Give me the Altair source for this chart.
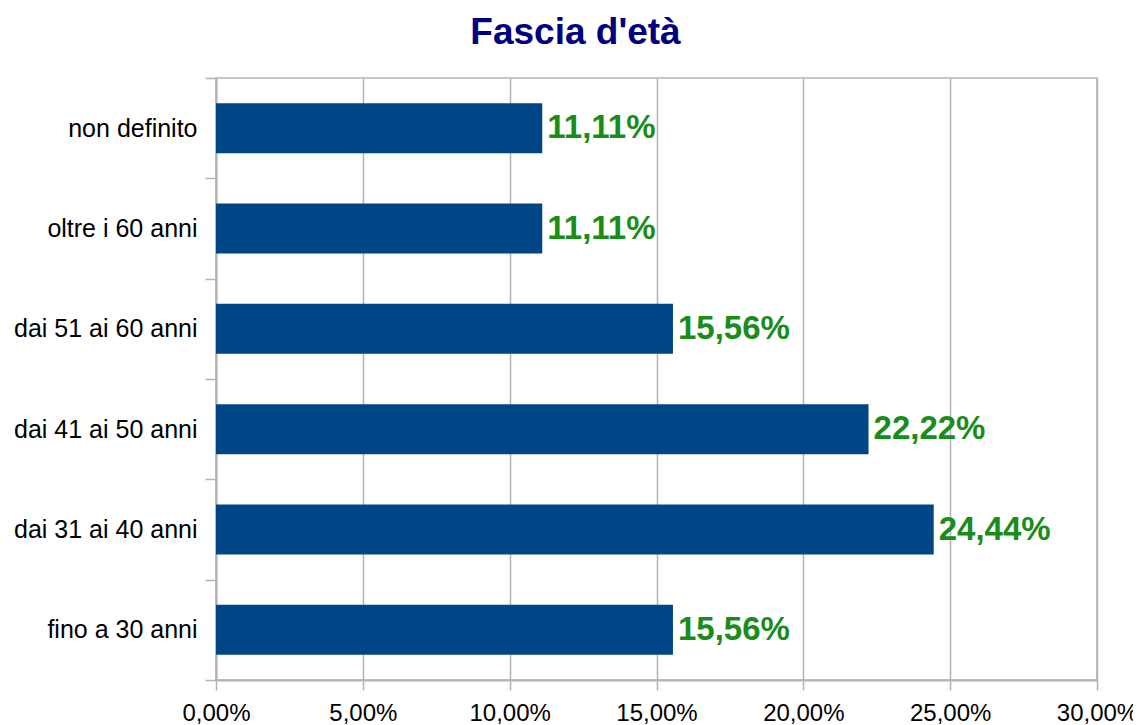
import altair as alt
import pandas as pd

categories = ["non definito", "oltre i 60 anni", "dai 51 ai 60 anni",
              "dai 41 ai 50 anni", "dai 31 ai 40 anni", "fino a 30 anni"]
values = [11.11, 11.11, 15.56, 22.22, 24.44, 15.56]
x_ticks = [0, 5, 10, 15, 20, 25, 30]

df = pd.DataFrame({"cat": categories, "v": values})

FONT = "Liberation Sans"
GRID = "#b3b3b3"

y_enc = alt.Y("cat:N", sort=categories, title=None,
              scale=alt.Scale(paddingInner=0, paddingOuter=0),
              axis=alt.Axis(tickBand="extent", grid=False, tickSize=11,
                            tickColor=GRID, tickWidth=1.5, domainColor=GRID,
                            domainWidth=2, labelFontSize=25, labelFont=FONT,
                            labelLimit=400,
                            labelColor="#000000", labelPadding=8))
x_enc = alt.X("v:Q", title=None,
              scale=alt.Scale(domain=[0, 30], nice=False),
              axis=alt.Axis(values=x_ticks, grid=True, gridColor=GRID,
                            gridWidth=1.5, tickSize=10, tickColor=GRID,
                            tickWidth=1.5, domainColor=GRID, domainWidth=2,
                            labelFontSize=24, labelFont=FONT, labelFlush=False,
                            labelColor="#000000", labelPadding=11,
                            labelExpr="replace(format(datum.value, '.2f'), '.', ',') + '%'"))

bars = alt.Chart(df).mark_bar(size=50, color="#004586").encode(x=x_enc, y=y_enc)
labels = alt.Chart(df).transform_calculate(
    lab="replace(format(datum.v, '.2f'), '.', ',') + '%'"
).mark_text(align="left", baseline="middle", dx=5, fontSize=33,
            fontWeight="bold", font=FONT, color="#1a8c1a").encode(
    x="v:Q", y=alt.Y("cat:N", sort=categories), text="lab:N")

chart = (bars + labels).properties(
    width=881, height=602,
    title=alt.TitleParams("Fascia d'età", fontSize=37, font=FONT,
                          fontWeight="bold", color="#000080",
                          anchor="middle", frame="group", dx=-81, offset=14),
    autosize=alt.AutoSizeParams(type="none"),
    padding={"left": 208, "top": 70, "right": 36, "bottom": 45},
).configure_view(stroke=GRID, strokeWidth=1.5)

chart.save("out.html", embed_options={"renderer": "svg", "actions": False})
